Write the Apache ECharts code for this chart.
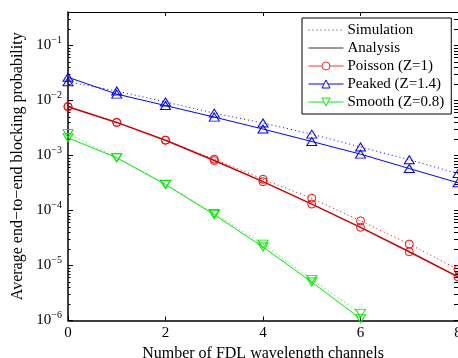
<!DOCTYPE html>
<html>
<head>
<meta charset="utf-8">
<script src="https://cdn.jsdelivr.net/npm/echarts@6/dist/echarts.min.js"></script>
<style>
  html, body { margin: 0; padding: 0; background: #fff; }
  #chart { width: 458px; height: 358px; }
</style>
</head>
<body>
<div id="chart"></div>
<script>
// number of FDL wavelength channels
const channels = [0, 1, 2, 3, 4, 5, 6, 7, 8];

// blocking probability
const poissonSim = [7.8e-3, 4.0e-3, 1.9e-3, 8.6e-4, 3.7e-4, 1.67e-4, 6.5e-5, 2.45e-5, 8.5e-6];
const poissonAna = [7.7e-3, 4.0e-3, 1.9e-3, 8.1e-4, 3.35e-4, 1.31e-4, 4.95e-5, 1.78e-5, 6.2e-6];
const peakedSim = [2.2e-2, 1.49e-2, 9.4e-3, 5.9e-3, 3.9e-3, 2.45e-3, 1.43e-3, 8.4e-4, 4.7e-4];
const peakedAna = [2.65e-2, 1.31e-2, 8.1e-3, 5.0e-3, 3.03e-3, 1.8e-3, 1.06e-3, 5.8e-4, 3.2e-4];
const smoothSim = [2.5e-3, 9.1e-4, 3.0e-4, 8.8e-5, 2.45e-5, 5.6e-6, 1.35e-6];
const smoothAna = [2.1e-3, 9.1e-4, 2.98e-4, 8.4e-5, 2.17e-5, 5.0e-6, 1.08e-6];

const xTicks = [0, 2, 4, 6, 8];
const yMajor = [1e-6, 1e-5, 1e-4, 1e-3, 1e-2, 1e-1];

const yMax = Math.pow(10, -0.39);
const yMinor = [];
yMajor.forEach(d => {
  for (let k = 2; k <= 9; k++) {
    if (d * k < yMax) yMinor.push(d * k);
  }
});

const font = 'Liberation Serif';
const toPairs = arr => arr.map((v, i) => [channels[i], v]);

const chart = echarts.init(document.getElementById('chart'));

const markerColor = {
  'Poisson (Z=1)': '#ff0000', 'poissonSim': '#ff0000',
  'Peaked (Z=1.4)': '#0000ff', 'peakedSim': '#0000ff',
  'Smooth (Z=0.8)': '#00ee00', 'smoothSim': '#00ee00'
};

function curve(name, arr, color, dotted, symbol, rotate, size, width) {
  return {
    name: name,
    type: 'line',
    data: toPairs(arr),
    yAxisIndex: 0,
    symbol: symbol,
    symbolSize: size,
    symbolRotate: rotate,
    showAllSymbol: true,
    lineStyle: { color: color, width: width, type: dotted ? [1, 3] : 'solid' },
    itemStyle: { color: 'rgba(0,0,0,0)', borderColor: markerColor[name] || color, borderWidth: 1 },
    z: dotted ? 3 : 2,
    animation: false
  };
}

function legendItem(name, color) {
  return {
    name: name,
    lineStyle: { color: color, width: 1 },
    itemStyle: { color: '#fff', borderColor: color, borderWidth: 1 }
  };
}

function logLabel(v) {
  const e = Math.round(Math.log10(v));
  return '{b|10}{s|' + (e < 0 ? '\u2212' + (-e) : e) + '}';
}

const option = {
  backgroundColor: '#fff',
  textStyle: { fontFamily: font },
  grid: { left: 68, top: 12, width: 390, height: 308.5, outerBoundsMode: 'none', containLabel: false },
  legend: {
    orient: 'vertical',
    left: 302,
    top: 18,
    width: 151,
    padding: [3, 7, 3, 6],
    itemWidth: 35,
    itemHeight: 10,
    itemGap: 0,
    backgroundColor: '#fff',
    borderColor: '#000',
    borderWidth: 1,
    borderRadius: 0,
    selectedMode: false,
    lineStyle: { width: 1 },
    textStyle: { fontFamily: font, fontSize: 15, color: '#000', lineHeight: 18, padding: [0, 0, 0, -1] },
    data: [
      { name: 'Simulation', lineStyle: { color: '#333', width: 1 } },
      { name: 'Analysis', lineStyle: { color: '#333', width: 1 } },
      legendItem('Poisson (Z=1)', '#ff3030'),
      legendItem('Peaked (Z=1.4)', '#0000ff'),
      legendItem('Smooth (Z=0.8)', '#00ee00')
    ]
  },
  xAxis: [
    {
      type: 'value', min: 0, max: 8, interval: 2, position: 'bottom',
      axisLine: { lineStyle: { color: '#000', width: 1.5 } },
      axisTick: { inside: true, length: 4, lineStyle: { color: '#000' }, customValues: xTicks },
      axisLabel: { color: '#000', fontSize: 15, fontFamily: font, margin: 5, customValues: xTicks },
      splitLine: { show: false },
      name: 'Number of FDL wavelength channels',
      nameLocation: 'middle',
      nameGap: 21,
      nameTextStyle: { color: '#000', fontSize: 16, fontFamily: font }
    },
    {
      type: 'value', min: 0, max: 8, interval: 2, position: 'top',
      axisLine: { lineStyle: { color: '#000', width: 1 } },
      axisTick: { inside: true, length: 4, lineStyle: { color: '#000' }, customValues: xTicks },
      axisLabel: { show: false },
      splitLine: { show: false }
    }
  ],
  yAxis: [
    {
      type: 'log', min: 1e-6, max: yMax, position: 'left',
      axisLine: { show: true, lineStyle: { color: '#000', width: 1.5 } },
      axisTick: { inside: true, length: 5, lineStyle: { color: '#000' }, customValues: yMajor },
      axisLabel: {
        customValues: yMajor,
        formatter: logLabel,
        margin: 6,
        rich: {
          b: { fontSize: 15, fontFamily: font, color: '#000' },
          s: { fontSize: 10, fontFamily: font, color: '#000', padding: [0, 0, 11, 0] }
        }
      },
      splitLine: { show: false },
      name: 'Average end\u2212to\u2212end blocking probability',
      nameLocation: 'middle',
      nameRotate: 90,
      nameGap: 37,
      nameTextStyle: { color: '#000', fontSize: 16, fontFamily: font }
    },
    {
      type: 'log', min: 1e-6, max: yMax, position: 'left',
      axisLine: { show: false },
      axisTick: { inside: true, length: 2.5, lineStyle: { color: '#000' }, customValues: yMinor },
      axisLabel: { show: false },
      splitLine: { show: false }
    },
    {
      type: 'log', min: 1e-6, max: yMax, position: 'right',
      axisLine: { show: true, lineStyle: { color: '#000', width: 1 } },
      axisTick: { inside: true, length: 4, lineStyle: { color: '#000' }, customValues: yMajor.concat(yMinor) },
      axisLabel: { show: false },
      splitLine: { show: false }
    }
  ],
  series: [
    { name: 'Simulation', type: 'line', data: [], symbol: 'none',
      lineStyle: { color: '#000', width: 1, type: [1, 3] },
      itemStyle: { color: 'rgba(0,0,0,0)', borderColor: 'rgba(0,0,0,0)' } },
    { name: 'Analysis', type: 'line', data: [], symbol: 'none',
      lineStyle: { color: '#000', width: 1 },
      itemStyle: { color: 'rgba(0,0,0,0)', borderColor: 'rgba(0,0,0,0)' } },
    curve('poissonSim', poissonSim, '#e00000', true, 'circle', 0, 8, 1),
    curve('Poisson (Z=1)', poissonAna, '#cc0000', false, 'circle', 0, 8, 1.5),
    curve('peakedSim', peakedSim, '#0000ff', true, 'triangle', 0, [10, 8], 1),
    curve('Peaked (Z=1.4)', peakedAna, '#0000ff', false, 'triangle', 0, [10, 8], 1),
    curve('smoothSim', smoothSim, '#00ee00', true, 'triangle', 180, [10, 8], 1),
    curve('Smooth (Z=0.8)', smoothAna, '#00ee00', false, 'triangle', 180, [10, 8], 1)
  ]
};

chart.setOption(option);
</script>
</body>
</html>
